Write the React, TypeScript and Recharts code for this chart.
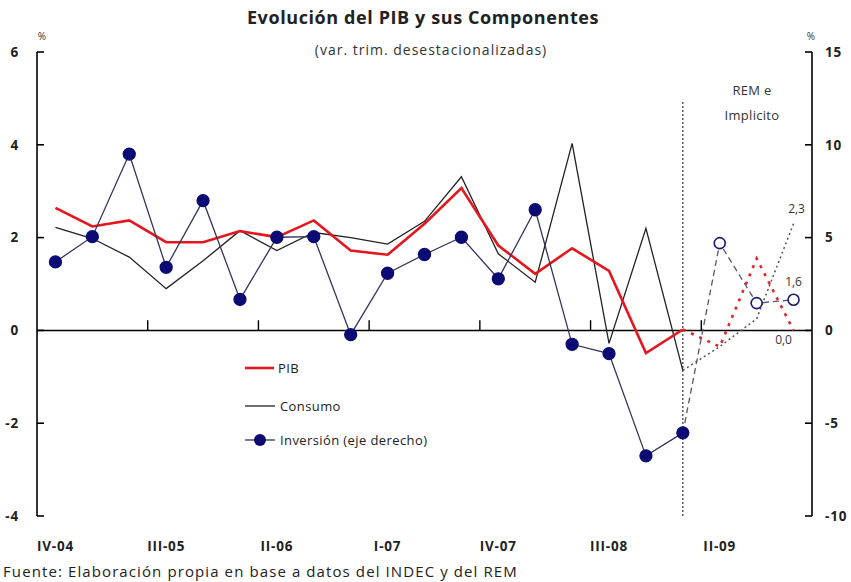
import { Line, LineChart, ReferenceLine, XAxis, YAxis } from "recharts";

const FONT = "'Open Sans', Lato, sans-serif";

const quarters = [
  "IV-04", "I-05", "II-05", "III-05", "IV-05", "I-06", "II-06", "III-06", "IV-06", "I-07", "II-07",
  "III-07", "IV-07", "I-08", "II-08", "III-08", "IV-08", "I-09", "II-09", "III-09", "IV-09",
];
const labelTicks = [0, 3, 6, 9, 12, 15, 18];
const boundaryTicks = [2.5, 5.5, 8.5, 11.5, 14.5, 17.5];
const leftTicks = [-4, -2, 0, 2, 4, 6];
const rightTicks = [-10, -5, 0, 5, 10, 15];

// observed, IV-04 .. I-09
const pib = [2.64, 2.24, 2.37, 1.9, 1.9, 2.14, 2.01, 2.37, 1.72, 1.63, 2.3, 3.07, 1.83, 1.22, 1.77, 1.28, -0.49, 0.02];
const consumo = [2.22, 1.98, 1.58, 0.9, 1.5, 2.15, 1.72, 2.11, 2.0, 1.86, 2.35, 3.31, 1.65, 1.04, 4.03, -0.28, 2.2, -0.86];
const inversion = [3.69, 5.05, 9.5, 3.4, 6.99, 1.67, 5.02, 5.05, -0.23, 3.08, 4.09, 5.02, 2.78, 6.5, -0.75, -1.25, -6.76, -5.52];

// REM / implicit, I-09 .. IV-09
const remStart = 17;
const pibRem = [0.02, -0.35, 1.55, 0.0];
const consumoRem = [-0.86, -0.35, 0.25, 2.3];
const inversionRem = [-5.52, 4.7, 1.47, 1.65];

const rows = quarters.map((q, i) => ({
  i,
  q,
  pib: pib[i] ?? null,
  consumo: consumo[i] ?? null,
  inversion: inversion[i] ?? null,
  pibRem: i >= remStart ? pibRem[i - remStart] : null,
  consumoRem: i >= remStart ? consumoRem[i - remStart] : null,
  inversionRem: i >= remStart ? inversionRem[i - remStart] : null,
}));

const endLabel = (text: string, dx: number, dy: number) => (p: any) =>
  p.index === quarters.length - 1 ? (
    <text x={p.x + dx} y={p.y + dy} textAnchor="middle" fontSize={12} fill="#333" fontFamily={FONT}>
      {text}
    </text>
  ) : (
    <g />
  );

const openDot = (p: any) =>
  p.index > remStart ? (
    <circle key={`o${p.index}`} cx={p.cx} cy={p.cy} r={5.5} fill="#fff" stroke="#1b1b70" strokeWidth={1.6} />
  ) : (
    <g key={`o${p.index}`} />
  );

const axisText = { fontSize: 13.5, fontWeight: 700, fill: "#222", fontFamily: FONT, letterSpacing: 0.8 };

export default function App() {
  return (
    <div style={{ position: "absolute", left: 0, top: 0, width: 851, height: 582, background: "#fff", fontFamily: FONT }}>
      <LineChart width={851} height={582} data={rows} margin={{ top: 52, right: 0, left: 0, bottom: 0 }}>
        <XAxis
          dataKey="i"
          type="number"
          domain={[-0.5, 20.5]}
          ticks={labelTicks}
          tickFormatter={(v) => quarters[v]}
          axisLine={false}
          tickLine={false}
          tickMargin={19}
          height={66}
          tick={axisText}
        />
        <YAxis
          yAxisId="left"
          domain={[-4, 6]}
          ticks={leftTicks}
          width={37}
          tickSize={-7}
          tickMargin={25}
          axisLine={{ stroke: "#000", strokeWidth: 1.6 }}
          tickLine={{ stroke: "#000", strokeWidth: 1.6 }}
          tick={axisText}
        />
        <YAxis
          yAxisId="right"
          orientation="right"
          domain={[-10, 15]}
          ticks={rightTicks}
          width={39}
          tickSize={-7}
          tickMargin={20}
          axisLine={{ stroke: "#000", strokeWidth: 1.6 }}
          tickLine={{ stroke: "#000", strokeWidth: 1.6 }}
          tick={axisText}
        />
        <ReferenceLine yAxisId="left" y={0} stroke="#000" strokeWidth={1.5} />
        {boundaryTicks.map((t) => (
          <ReferenceLine
            key={t}
            yAxisId="left"
            segment={[{ x: t, y: 0 }, { x: t, y: 0.22 }]}
            stroke="#000"
            strokeWidth={1.4}
          />
        ))}
        <ReferenceLine
          yAxisId="left"
          segment={[{ x: remStart, y: -4 }, { x: remStart, y: 4.95 }]}
          stroke="#333"
          strokeWidth={1.2}
          strokeDasharray="2 2"
        />
        <Line yAxisId="left" dataKey="consumo" stroke="#222" strokeWidth={1.3} dot={false} isAnimationActive={false} />
        <Line yAxisId="left" dataKey="pib" stroke="#e4161e" strokeWidth={2.6} dot={false} isAnimationActive={false} />
        <Line
          yAxisId="right"
          dataKey="inversion"
          stroke="#34345c"
          strokeWidth={1.3}
          dot={{ r: 6, fill: "#0b0b73", stroke: "#0b0b73" }}
          isAnimationActive={false}
        />
        <Line
          yAxisId="left"
          dataKey="consumoRem"
          stroke="#555"
          strokeWidth={1.5}
          strokeDasharray="2 3"
          dot={false}
          label={endLabel("2,3", 3, -11)}
          isAnimationActive={false}
        />
        <Line
          yAxisId="left"
          dataKey="pibRem"
          stroke="#e8202a"
          strokeWidth={2.6}
          strokeDasharray="3 6"
          dot={false}
          label={endLabel("0,0", -10, 14)}
          isAnimationActive={false}
        />
        <Line
          yAxisId="right"
          dataKey="inversionRem"
          stroke="#55556f"
          strokeWidth={1.3}
          strokeDasharray="6 4"
          dot={openDot}
          label={endLabel("1,6", 0, -14)}
          isAnimationActive={false}
        />
      </LineChart>
      <svg width={851} height={582} style={{ position: "absolute", left: 0, top: 0, pointerEvents: "none" }} fontFamily={FONT}>
        <text x={423} y={24} textAnchor="middle" fontSize={18} fontWeight={700} letterSpacing={0.6} fill="#222">
          Evolución del PIB y sus Componentes
        </text>
        <text x={431} y={55} textAnchor="middle" fontSize={14} letterSpacing={1} fill="#333">
          (var. trim. desestacionalizadas)
        </text>
        <text x={42} y={40} textAnchor="middle" fontSize={10} fill="#333">%</text>
        <text x={811} y={40} textAnchor="middle" fontSize={10} fill="#333">%</text>
        <text x={752} y={95} textAnchor="middle" fontSize={13} letterSpacing={0.3} fill="#333">REM e</text>
        <text x={752} y={120} textAnchor="middle" fontSize={13} letterSpacing={0.3} fill="#333">Implicito</text>
        <line x1={245} y1={368} x2={274} y2={368} stroke="#e4161e" strokeWidth={2.6} />
        <text x={278} y={373} fontSize={13} letterSpacing={0.4} fill="#222">PIB</text>
        <line x1={245} y1={406} x2={275} y2={406} stroke="#222" strokeWidth={1.3} />
        <text x={280} y={411} fontSize={13} letterSpacing={0.4} fill="#222">Consumo</text>
        <line x1={245} y1={440} x2={275} y2={440} stroke="#34345c" strokeWidth={1.3} />
        <circle cx={260} cy={440} r={6} fill="#0b0b73" />
        <text x={280} y={445} fontSize={13} letterSpacing={0.4} fill="#222">Inversión (eje derecho)</text>
        <text x={3} y={577} fontSize={15} letterSpacing={1.1} fill="#222">
          Fuente: Elaboración propia en base a datos del INDEC y del REM
        </text>
      </svg>
    </div>
  );
}
